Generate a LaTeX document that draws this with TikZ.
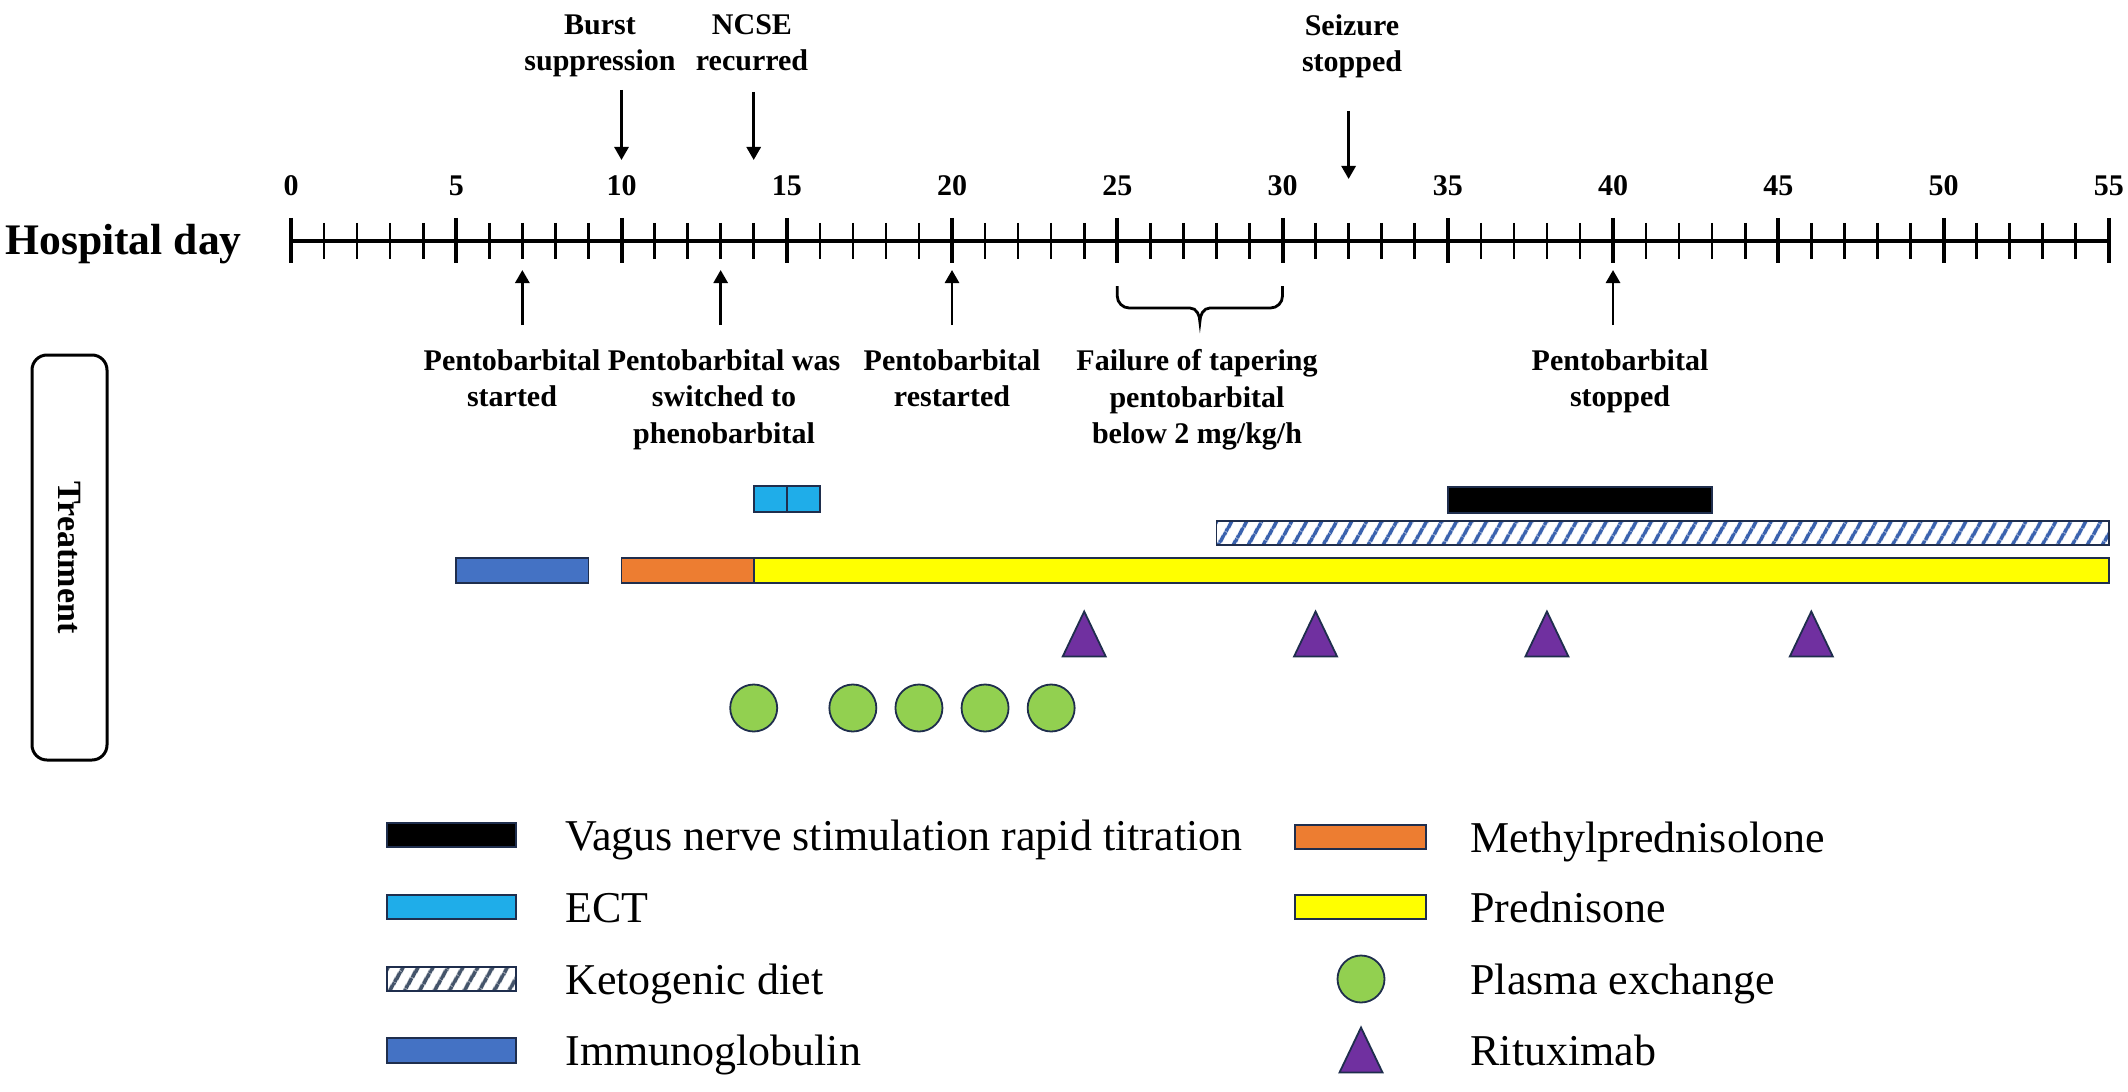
\documentclass[tikz,border=0pt]{standalone}
\usepackage{fontspec}
\setmainfont{Liberation Serif}
\usetikzlibrary{arrows.meta,patterns.meta}

\definecolor{ivigblue}{HTML}{4472C4}
\definecolor{ectblue}{HTML}{1FADE9}
\definecolor{mporange}{HTML}{ED7D31}
\definecolor{pdyellow}{HTML}{FFFF00}
\definecolor{pexgreen}{HTML}{92D050}
\definecolor{rtxpurple}{HTML}{7030A0}
\definecolor{ketoblue}{HTML}{3A62AE}
\definecolor{ketogray}{HTML}{44546A}
\definecolor{edgeblue}{HTML}{1F2E4D}

% day -> x position (pixels of the figure)
\newcommand{\dayx}[1]{291+33.05*(#1)}
% rituximab triangle at (x,y)
\newcommand{\rtx}[2]{\filldraw[rtxmark] ({#1-21.5},{#2+22.5}) -- ({#1+21.5},{#2+22.5}) -- ({#1},{#2-22.5}) -- cycle;}

\tikzset{
  evlabel/.style={font=\bfseries\fontsize{15}{18.25}\selectfont, align=center, inner sep=0pt, anchor=north},
  evarrow/.style={line width=1.4pt, -{Triangle[length=6.5pt,width=7pt]}},
  ticklabel/.style={font=\bfseries\fontsize{15}{18}\selectfont, inner sep=0pt, anchor=base},
  barbox/.style={draw=edgeblue, line width=0.9pt},
  ketobox/.style={barbox, preaction={fill=white}, pattern={Lines[angle=60,distance=6.5pt,line width=2pt]}, pattern color=#1},
  pexdot/.style={circle, draw=edgeblue, line width=0.9pt, fill=pexgreen, minimum size=23.5pt, inner sep=0pt},
  rtxmark/.style={draw=edgeblue, line width=0.9pt, fill=rtxpurple},
  legtext/.style={font=\fontsize{22}{26}\selectfont, anchor=base west, inner sep=0pt}
}

\begin{document}
\begin{tikzpicture}[x=0.5pt, y=-0.5pt]
    \useasboundingbox (0,0) rectangle (2128,1091);

    % axis
    \node[font=\bfseries\fontsize{21.8}{26}\selectfont, anchor=base west, inner sep=0pt] (hday) at (5,255) {Hospital day};
    \draw[line width=2pt] ({\dayx{0}},241) -- ({\dayx{55}},241);
    \foreach \d in {0,...,55} {
        \draw[line width=1.3pt] ({\dayx{\d}},223) -- ({\dayx{\d}},259);
    }
    \foreach \d in {0,5,...,55} {
        \draw[line width=2pt] ({\dayx{\d}},218) -- ({\dayx{\d}},263);
        \node[ticklabel] (t\d) at ({\dayx{\d}},196) {\d};
    }

    % events above
    \node[evlabel] (burst) at (600,14) {Burst\\suppression};
    \node[evlabel] (ncse) at (752,14) {NCSE\\recurred};
    \node[evlabel] (seiz) at (1352,14) {Seizure\\stopped};
    \coordinate (burst-a) at ({\dayx{10}},90);
    \coordinate (burst-b) at ({\dayx{10}},160);
    \coordinate (ncse-a) at ({\dayx{14}},92);
    \coordinate (ncse-b) at ({\dayx{14}},160);
    \coordinate (seiz-a) at ({\dayx{32}},111);
    \coordinate (seiz-b) at ({\dayx{32}},179);
    \draw[evarrow] (burst-a) -- (burst-b);
    \draw[evarrow] (ncse-a) -- (ncse-b);
    \draw[evarrow] (seiz-a) -- (seiz-b);

    % events below
    \foreach \d/\n in {7/pstart, 13/pswitch, 20/prestart, 40/pstop} {
        \coordinate (\n-a) at ({\dayx{\d}},325);
        \coordinate (\n-b) at ({\dayx{\d}},270);
        \draw[evarrow] (\n-a) -- (\n-b);
    }
    \node[evlabel] (pstart) at (512,349) {Pentobarbital\\started};
    \node[evlabel] (pswitch) at (724,349) {Pentobarbital was\\switched to\\phenobarbital};
    \node[evlabel] (prestart) at (952,349) {Pentobarbital\\restarted};
    \node[evlabel] (taper) at (1197,349) {Failure of tapering\\pentobarbital\\below 2 mg/kg/h};
    \node[evlabel] (pstop) at (1620,349) {Pentobarbital\\stopped};

    % brace day 25-30
    \coordinate (brace-a) at ({\dayx{25}},286);
    \coordinate (brace-a2) at ({\dayx{25}},296);
    \coordinate (brace-l1) at ({\dayx{25}+12},308);
    \coordinate (brace-l2) at ({\dayx{27.5}-10},308);
    \coordinate (brace-m) at ({\dayx{27.5}},322);
    \coordinate (brace-r1) at ({\dayx{27.5}+10},308);
    \coordinate (brace-r2) at ({\dayx{30}-12},308);
    \coordinate (brace-b2) at ({\dayx{30}},296);
    \coordinate (brace-b) at ({\dayx{30}},286);
    \draw[line width=1.4pt] (brace-a) -- (brace-a2) to[out=-90,in=180] (brace-l1) -- (brace-l2)
        to[out=0,in=90] (brace-m) to[out=90,in=180] (brace-r1) -- (brace-r2)
        to[out=0,in=-90] (brace-b2) -- (brace-b);

    % treatment
    \node[draw, line width=1.5pt, rounded corners=7.5pt, rotate=-90, minimum width=202.5pt, minimum height=37.5pt,
          font=\bfseries\fontsize{17}{20}\selectfont] (treat) at (69.5,557.5) {Treatment};

    \draw[barbox, fill=ectblue] ({\dayx{14}},486) rectangle ({\dayx{15}},512);
    \draw[barbox, fill=ectblue] ({\dayx{15}},486) rectangle ({\dayx{16}},512);
    \draw[barbox, fill=black] ({\dayx{35}},487) rectangle ({\dayx{43}},513);
    \draw[ketobox=ketoblue] ({\dayx{28}},521) rectangle ({\dayx{55}},545);
    \draw[barbox, fill=ivigblue] ({\dayx{5}},558) rectangle ({\dayx{9}},583);
    \draw[barbox, fill=mporange] ({\dayx{10}},558) rectangle ({\dayx{14}},583);
    \draw[barbox, fill=pdyellow] ({\dayx{14}},558) rectangle ({\dayx{55}},583);

    \foreach \d in {24,31,38,46} {
        \rtx{\dayx{\d}}{634}
    }
    \foreach \d in {14,17,19,21,23} {
        \node[pexdot] (pex\d) at ({\dayx{\d}},708) {};
    }

    % legend
    \draw[barbox, fill=black] (387,823) rectangle (516,847);
    \node[legtext] (lvns) at (565,850) {Vagus nerve stimulation rapid titration};
    \draw[barbox, fill=ectblue] (387,895) rectangle (516,919);
    \node[legtext] (lect) at (565,922) {ECT};
    \draw[ketobox=ketogray] (387,967) rectangle (516,991);
    \node[legtext] (lketo) at (565,994) {Ketogenic diet};
    \draw[barbox, fill=ivigblue] (387,1038) rectangle (516,1063);
    \node[legtext] (livig) at (565,1065) {Immunoglobulin};

    \draw[barbox, fill=mporange] (1295,825) rectangle (1426,849);
    \node[legtext] (lmp) at (1470,852) {Methylprednisolone};
    \draw[barbox, fill=pdyellow] (1295,895) rectangle (1426,919);
    \node[legtext] (lpd) at (1470,922) {Prednisone};
    \node[pexdot] (lpexdot) at (1361,979) {};
    \node[legtext] (lpex) at (1470,994) {Plasma exchange};
    \rtx{1361}{1050}
    \node[legtext] (lrtx) at (1470,1065) {Rituximab};

\end{tikzpicture}
\end{document}
